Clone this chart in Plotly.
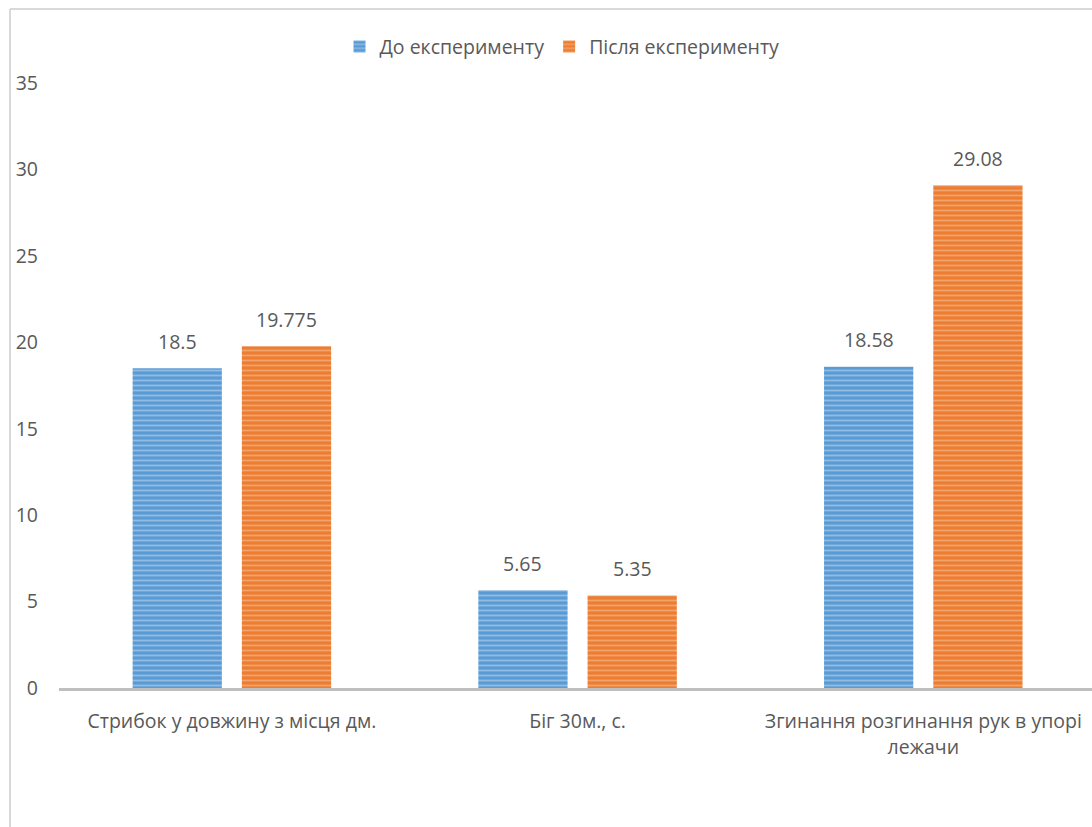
import plotly.graph_objects as go

categories = ["Стрибок у довжину з місця дм.", "Біг 30м., с.", "Згинання розгинання рук в упорі<br>лежачи"]
series_names = ["До експерименту", "Після експерименту"]
before = [18.5, 5.65, 18.58]
after = [19.775, 5.35, 29.08]
before_labels = ["18.5", "5.65", "18.58"]
after_labels = ["19.775", "5.35", "29.08"]
y_ticks = [0, 5, 10, 15, 20, 25, 30, 35]

FONT = "Open Sans"
TXT = "#595959"
FS = 19.5
BARGAP = 0.368
BARGROUPGAP = 0.183
L = 59

fig = go.Figure()
fig.add_trace(go.Bar(
    x=categories, y=before, name=series_names[0],
    marker=dict(color="#5B9BD5", line=dict(width=0),
                pattern=dict(shape="-", fgcolor="#C9DDF2", size=5, solidity=0.35)),
))
fig.add_trace(go.Bar(
    x=categories, y=after, name=series_names[1],
    marker=dict(color="#ED7D31", line=dict(width=0),
                pattern=dict(shape="-", fgcolor="#F8CBAD", size=5, solidity=0.35)),
))

# data labels placed above bars via annotations (offset = half a bar slot)
half_slot = (1 - BARGAP) / 4
annotations = []
for i, (vals, labs, sign) in enumerate([(before, before_labels, -1), (after, after_labels, 1)]):
    for j, (v, lab) in enumerate(zip(vals, labs)):
        annotations.append(dict(
            x=j + sign * half_slot, y=v, xref="x", yref="y", text=lab,
            showarrow=False, yanchor="middle", yshift=27,
            font=dict(size=FS, color=TXT, family=FONT),
        ))

pw = 1092 - L
fig.update_layout(
    width=1092, height=827,
    margin=dict(l=L, r=0, t=83, b=139),
    paper_bgcolor="white", plot_bgcolor="white",
    barmode="group", bargap=BARGAP, bargroupgap=BARGROUPGAP,
    font=dict(family=FONT, size=FS, color=TXT),
    legend=dict(orientation="h", x=(562 - L) / pw, xanchor="center", y=1.06, yanchor="middle",
                font=dict(size=FS, color=TXT, family=FONT), itemwidth=30,
                traceorder="normal"),
    xaxis=dict(showline=True, linecolor="#BFBFBF", linewidth=3, ticks="",
               showgrid=False, tickfont=dict(size=FS, color=TXT, family=FONT),
               ticklabelstandoff=14, range=[-0.5, 2.488]),
    yaxis=dict(range=[0, 35], tickvals=y_ticks, showgrid=False, showline=False,
               zeroline=False, ticks="", ticklabelstandoff=20,
               tickfont=dict(size=FS, color=TXT, family=FONT)),
    annotations=annotations,
    shapes=[
        dict(type="line", xref="paper", yref="paper", x0=(10 - L) / pw, x1=1.1,
             y0=(827 - 139 - 9) / 605, y1=(827 - 139 - 9) / 605,
             line=dict(color="#D9D9D9", width=2)),
        dict(type="line", xref="paper", yref="paper", x0=(10 - L) / pw, x1=(10 - L) / pw,
             y0=-0.3, y1=(827 - 139 - 9) / 605,
             line=dict(color="#D9D9D9", width=2)),
    ],
)

fig.write_html("out.html")
